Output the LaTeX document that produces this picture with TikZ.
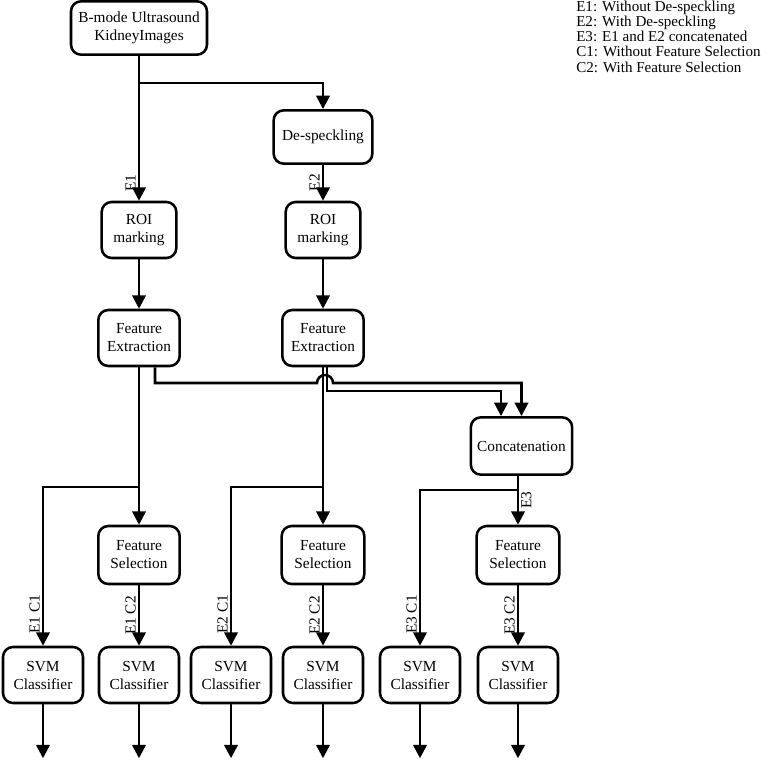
\documentclass[tikz,border=0pt]{standalone}
\usepackage{fontspec}
\setmainfont{Liberation Serif}
\usetikzlibrary{arrows.meta,positioning,calc}
\tikzset{
  bloque/.style={
    rectangle, rounded corners=7.5pt, draw, line width=1.9pt, align=center,
    font=\fontsize{11.5}{13.5}\selectfont, minimum height=42pt, inner sep=2pt},
  svm/.style={bloque, minimum width=60pt},
  flecha/.style={-{Triangle[length=10pt,width=10pt]}, line width=1.9pt},
  linea/.style={line width=1.9pt},
  etiq/.style={font=\fontsize{11.5}{13.5}\selectfont, rotate=90, inner sep=1.5pt},
  leyenda/.style={font=\fontsize{11.3}{11.4}\selectfont, align=left, inner sep=0pt}
}
\begin{document}
\begin{tikzpicture}[x=0.75pt,y=0.75pt]
\useasboundingbox (0,0) rectangle (761,-760);

% Bloques principales
\node[bloque, minimum width=102pt, minimum height=40pt] (img) at (139,-28) {B-mode Ultrasound\\KidneyImages};
\node[bloque, minimum width=74pt, minimum height=40pt] (desp) at (323,-137) {De-speckling};
\node[bloque, minimum width=56pt] (roiA) at (139,-230) {ROI\\marking};
\node[bloque, minimum width=56pt] (roiB) at (323,-230) {ROI\\marking};
\node[bloque, minimum width=61pt] (feA) at (139,-338) {Feature\\Extraction};
\node[bloque, minimum width=61pt] (feB) at (323,-338) {Feature\\Extraction};
\node[bloque, minimum width=76pt, minimum height=43pt] (concat) at (521.5,-446) {Concatenation};
\node[bloque, minimum width=61pt, minimum height=43.5pt] (fsA) at (139,-555) {Feature\\Selection};
\node[bloque, minimum width=62pt, minimum height=43.5pt] (fsB) at (323,-555) {Feature\\Selection};
\node[bloque, minimum width=62pt, minimum height=43.5pt] (fsC) at (518,-555) {Feature\\Selection};

% Clasificadores
\node[svm] (svmA) at (43,-675) {SVM\\Classifier};
\node[svm] (svmB) at (139,-675) {SVM\\Classifier};
\node[svm] (svmC) at (231,-675) {SVM\\Classifier};
\node[svm] (svmD) at (323,-675) {SVM\\Classifier};
\node[svm] (svmE) at (420,-675) {SVM\\Classifier};
\node[svm] (svmF) at (518,-675) {SVM\\Classifier};

% Leyenda
\node[leyenda, anchor=north west] (ley) at (576,-0.5) {E1: Without De-speckling\\E2: With De-speckling\\E3: E1 and E2 concatenated\\C1: Without Feature Selection\\C2: With Feature Selection};

% Puntos de bifurcacion
\coordinate (brTop) at (139,-83);
\coordinate (brA) at (139,-487);
\coordinate (brB) at (323,-487);
\coordinate (hopL) at (317,-383);
\coordinate (catIn) at ($(concat.north)+(-20.5,0)$);

\draw[flecha] (img) -- node[etiq, anchor=south, pos=0.88]{E1} (roiA);
\draw[flecha] (brTop) -| (desp);
\draw[flecha] (desp) -- node[etiq, anchor=south, pos=0.5]{E2} (roiB);
\draw[flecha] (roiA) -- (feA);
\draw[flecha] (roiB) -- (feB);

% Hacia la concatenacion
\draw[flecha] ($(feA.south)+(16,0)$) |- (hopL) arc[start angle=180, end angle=0, radius=8] -| (concat.north);
\draw[flecha] ($(feB.south)+(4,0)$) |- ($(catIn)+(0,25)$) -- (catIn);

\draw[flecha] (feA) -- (fsA);
\draw[flecha] (brA) -| node[etiq, anchor=south, pos=0.9]{E1 C1} (svmA);
\draw[flecha] (feB) -- (fsB);
\draw[flecha] (brB) -| node[etiq, anchor=south, pos=0.9]{E2 C1} (svmC);
\draw[flecha] (concat.south -| fsC.north) -- node[etiq, anchor=north, pos=0.5]{E3} (fsC);
\draw[flecha] ($(concat.south -| fsC.north)+(0,-14)$) -| node[etiq, anchor=south, pos=0.9]{E3 C1} (svmE);

\draw[flecha] (fsA) -- node[etiq, anchor=south, pos=0.5]{E1 C2} (svmB);
\draw[flecha] (fsB) -- node[etiq, anchor=south, pos=0.5]{E2 C2} (svmD);
\draw[flecha] (fsC) -- node[etiq, anchor=south, pos=0.5]{E3 C2} (svmF);

% Salidas
\foreach \s in {A,B,C,D,E,F} {
  \coordinate (out\s) at ($(svm\s.south)+(0,-54)$);
  \draw[flecha] (svm\s) -- (out\s);
}

\end{tikzpicture}
\end{document}
